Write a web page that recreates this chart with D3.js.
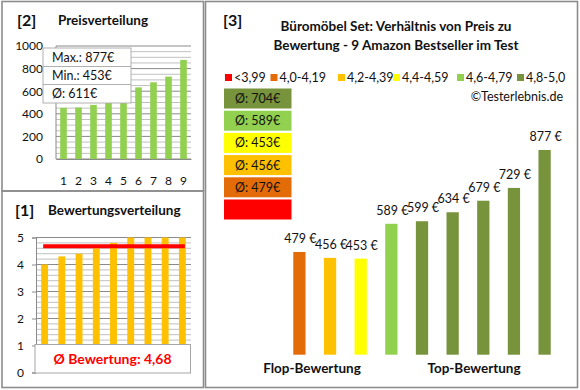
<!DOCTYPE html>
<html><head><meta charset="utf-8">
<script src="https://cdn.jsdelivr.net/npm/d3@7"></script>
<style>body{margin:0;background:#fff}svg{display:block;font-family:Lato,"Open Sans",sans-serif}</style>
</head><body><svg id="c" width="580" height="390"></svg>
<script>
// ---- data ----
const priceIdx = ["1","2","3","4","5","6","7","8","9"];
const pricesSorted = [453,456,479,589,599,634,679,729,877];
const priceTicks = [0,200,400,600,800,1000];
const priceStats = ["Max.: 877€","Min.: 453€","Ø: 611€"];
const ratings = [4.0,4.3,4.4,4.6,4.8,5.0,5.0,5.0,5.0];
const ratingTicks = [0,1,2,3,4,5];
const ratingAvg = 4.68;
const ratingAvgLabel = "Ø Bewertung: 4,68";
const barPrices = [479,456,453,589,599,634,679,729,877];
const barClass = [1,2,3,4,5,5,5,5,5];
const classLabels = ["<3,99","4,0-4,19","4,2-4,39","4,4-4,59","4,6-4,79","4,8-5,0"];
const classColors = ["#FF0000","#E36C09","#FFC000","#FFFF00","#92D050","#77933C"];
const avgBoxes = ["Ø: 704€","Ø: 589€","Ø: 453€","Ø: 456€","Ø: 479€",""];
const avgBoxClass = [5,4,3,2,1,0];

const svg = d3.select("#c");
svg.append("rect").attr("width",580).attr("height",390).attr("fill","#fff");
const border="#8c8c8c";
// panels
svg.append("rect").attr("x",2).attr("y",1.5).attr("width",201.5).attr("height",189.5).attr("fill","none").attr("stroke",border).attr("stroke-width",1.6);
svg.append("rect").attr("x",2).attr("y",191).attr("width",201.5).attr("height",196.5).attr("fill","none").attr("stroke",border).attr("stroke-width",1.6);
svg.append("rect").attr("x",205.5).attr("y",1.5).attr("width",372).attr("height",386).attr("fill","none").attr("stroke",border).attr("stroke-width",1.6);

const txt=(x,y,s,o={})=>svg.append("text").attr("x",x).attr("y",y).text(s)
  .attr("font-size",o.size||12).attr("font-weight",o.bold?"bold":"normal")
  .attr("fill",o.fill||"#111").attr("text-anchor",o.anchor||"start");

// ---------- Panel [2] ----------
txt(17,26,"[2]",{size:16,bold:true});
txt(58,25,"Preisverteilung",{size:13.5,bold:true});
{
  const x=d3.scaleBand().domain(priceIdx).range([56,191]).paddingInner(0.56).paddingOuter(0.28);
  const y=d3.scaleLinear().domain([0,1000]).range([159,46]);
  const g=svg.append("g");
  d3.range(0,1001,50).forEach(v=>{
    g.append("line").attr("x1",56).attr("x2",191).attr("y1",y(v)).attr("y2",y(v))
     .attr("stroke",v%200===0?"#8a8a8a":"#c0c0c0").attr("stroke-width",1);
  });
  g.append("line").attr("x1",56).attr("x2",56).attr("y1",46).attr("y2",159).attr("stroke","#8a8a8a");
  g.selectAll("rect.b").data(pricesSorted).join("rect").attr("class","b")
   .attr("x",(d,i)=>x(priceIdx[i])).attr("width",x.bandwidth())
   .attr("y",d=>y(d)).attr("height",d=>159-y(d)).attr("fill","#92D050");
  const ax=d3.axisLeft(y).tickValues(priceTicks).tickFormat(d3.format("d")).tickSize(0).tickPadding(13);
  const ga=svg.append("g").attr("transform","translate(56,0)").call(ax);
  ga.select(".domain").remove();
  ga.selectAll("text").attr("font-size",12).attr("fill","#111").attr("font-family","Lato");
  const bx=d3.axisBottom(x).tickSize(0).tickPadding(17);
  const gb=svg.append("g").attr("transform","translate(0,159)").call(bx);
  gb.select(".domain").attr("stroke","#8a8a8a");
  gb.selectAll("text").attr("font-size",12).attr("fill","#111").attr("font-family","Lato");
  // stats box
  const sb=svg.append("g");
  sb.append("rect").attr("x",43).attr("y",48).attr("width",88).attr("height",55).attr("fill","#fff").attr("stroke","#b0b0b0");
  [66.5,84.5].forEach(yy=>sb.append("line").attr("x1",43).attr("x2",131).attr("y1",yy).attr("y2",yy).attr("stroke","#b0b0b0"));
  priceStats.forEach((s,i)=>sb.append("text").attr("x",52).attr("y",62+i*18).text(s).attr("font-size",12.5).attr("fill","#111"));
}

// ---------- Panel [1] ----------
txt(15,216,"[1]",{size:16,bold:true});
txt(48,215,"Bewertungsverteilung",{size:13.5,bold:true});
{
  const x=d3.scaleBand().domain(priceIdx).range([36,191]).paddingInner(0.6).paddingOuter(0.3);
  const y=d3.scaleLinear().domain([0,5]).range([372.5,237.5]);
  const g=svg.append("g");
  d3.range(0,26).forEach(k=>{
    const v=k*0.2;
    g.append("line").attr("x1",36).attr("x2",191).attr("y1",y(v)).attr("y2",y(v))
     .attr("stroke",k%5===0?"#8a8a8a":"#c0c0c0");
  });
  g.selectAll("rect.b").data(ratings).join("rect").attr("class","b")
   .attr("x",(d,i)=>x(priceIdx[i])).attr("width",x.bandwidth())
   .attr("y",d=>y(d)).attr("height",d=>372.5-y(d)).attr("fill","#FFC000");
  const ga=svg.append("g").attr("transform","translate(36,0)").call(d3.axisLeft(y).tickValues(ratingTicks).tickFormat(d3.format("d")).tickSize(4).tickPadding(8));
  ga.select(".domain").attr("stroke","#8a8a8a");
  ga.selectAll(".tick line").attr("stroke","#8a8a8a");
  ga.selectAll("text").attr("font-size",12).attr("fill","#111").attr("font-family","Lato");
  g.append("line").attr("x1",x(priceIdx[0])+2).attr("x2",x(priceIdx[8])+x.bandwidth()-1)
   .attr("y1",y(ratingAvg)).attr("y2",y(ratingAvg)).attr("stroke","#FF0000").attr("stroke-width",4);
  svg.append("rect").attr("x",35).attr("y",344.5).attr("width",155.5).attr("height",28.5).attr("fill","#fff").attr("stroke","#a6a6a6");
  txt(112.5,364,ratingAvgLabel,{size:14,bold:true,fill:"#FF0000",anchor:"middle"});
}

// ---------- Panel [3] ----------
txt(223,26,"[3]",{size:16,bold:true});
txt(396,31,"Büromöbel Set: Verhältnis von Preis zu",{size:13.5,bold:true,anchor:"middle"});
txt(396,50,"Bewertung - 9 Amazon Bestseller im Test",{size:13.5,bold:true,anchor:"middle"});
{
  const legX=[225,270.5,338,393,457,517];
  classLabels.forEach((l,i)=>{
    svg.append("rect").attr("x",legX[i]).attr("y",74).attr("width",7).attr("height",7).attr("fill",classColors[i]);
    txt(legX[i]+9,81.5,l,{size:12.5});
  });
  txt(563,101,"©Testerlebnis.de",{size:12.5,anchor:"end"});
  avgBoxes.forEach((s,i)=>{
    const yy=88.5+i*22.2;
    svg.append("rect").attr("x",224).attr("y",yy).attr("width",67.5).attr("height",20).attr("fill",classColors[avgBoxClass[i]]);
    if(s) txt(235,yy+14.5,s,{size:12.5});
  });
  const x=d3.scaleBand().domain(priceIdx).range([285,559]).paddingInner(0.6).paddingOuter(0.27);
  const y=d3.scaleLinear().domain([78,877]).range([354.7,150]);
  svg.selectAll("rect.pb").data(barPrices).join("rect").attr("class","pb")
   .attr("x",(d,i)=>x(priceIdx[i])).attr("width",x.bandwidth())
   .attr("y",d=>y(d)).attr("height",d=>354.7-y(d)).attr("fill",(d,i)=>classColors[barClass[i]]);
  svg.selectAll("text.pl").data(barPrices).join("text").attr("class","pl")
   .attr("x",(d,i)=>x(priceIdx[i])+x.bandwidth()/2+1).attr("y",d=>y(d)-9)
   .attr("text-anchor","middle").attr("font-size",12.5).attr("fill","#111").text(d=>d+" €");
  txt(312,373,"Flop-Bewertung",{size:13.5,bold:true,anchor:"middle"});
  txt(474,373,"Top-Bewertung",{size:13.5,bold:true,anchor:"middle"});
}
</script></body></html>
